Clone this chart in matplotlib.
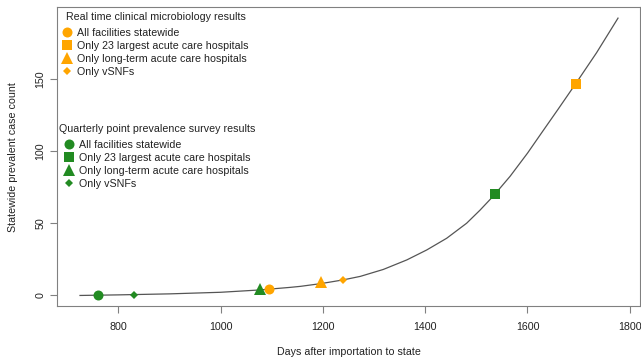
import matplotlib
matplotlib.use("Agg")
import matplotlib.pyplot as plt
from matplotlib.lines import Line2D

plt.rcParams["font.family"] = ["Liberation Sans", "DejaVu Sans"]
FS = 7.68

# model curve
curve_days = [725, 800, 900, 1000, 1076, 1136, 1156, 1196, 1240, 1273,
              1318, 1364, 1403, 1442, 1481, 1507, 1527, 1536, 1566, 1600,
              1630, 1660, 1695, 1735, 1777]
curve_cases = [0, 0.4, 1.1, 2.2, 3.8, 5.6, 6.3, 8.2, 10.8, 13.2,
               18.0, 24.6, 31.5, 39.6, 50, 59, 66.5, 70, 82.5, 98.5,
               113.8, 129, 147, 168, 192]

# detection points (day, case count)
labels = ["All facilities statewide", "Only 23 largest acute care hospitals",
          "Only long-term acute care hospitals", "Only vSNFs"]
markers = ["o", "s", "^", "D"]
msizes = [7.2, 6.8, 8.0, 4.2]

rt_days = [1095, 1695, 1196, 1240]
rt_cases = [4.3, 146.5, 9.0, 10.9]
pps_days = [760, 1536, 1076, 831]
pps_cases = [0.2, 70, 4.6, 0.5]

orange = "#FFA500"
green = "#228B22"
grey = "#808080"
ink = "#222222"

fig = plt.figure(figsize=(6.41, 3.61), dpi=100)
ax = fig.add_axes([57/641, 1 - 306/361, 583/641, 299/361])

ax.plot(curve_days, curve_cases, color="#555555", lw=0.9, zorder=2)
for i in range(4):
    ax.plot(rt_days[i], rt_cases[i], marker=markers[i], ms=msizes[i],
            color=orange, mew=0, ls="none", zorder=3)
    ax.plot(pps_days[i], pps_cases[i], marker=markers[i], ms=msizes[i],
            color=green, mew=0, ls="none", zorder=3)

ax.set_xlim(680, 1820)
ax.set_ylim(-7.3, 199.7)
ax.set_xticks([800, 1000, 1200, 1400, 1600, 1800])
ax.set_yticks([0, 50, 100, 150])
for s in ax.spines.values():
    s.set_color(grey)
    s.set_linewidth(0.8)
ax.tick_params(axis="both", colors=grey, labelcolor=ink,
               labelsize=FS, length=4.8, width=0.8)
ax.tick_params(axis="x", pad=6.5)
ax.tick_params(axis="y", pad=3.5)
for t in ax.get_yticklabels():
    t.set_rotation(90)
    t.set_va("center")

fig.text(348.5/641, 1 - 352/361, "Days after importation to state",
         ha="center", va="center", fontsize=FS, color=ink)
fig.text(13.5/641, 1 - 157/361, "Statewide prevalent case count",
         ha="center", va="center", rotation=90, fontsize=FS, color=ink)


def make_legend(color, title, cx, title_y, top):
    handles = [Line2D([], [], marker=markers[i], ms=msizes[i], color=color,
                      mew=0, ls="none") for i in range(4)]
    leg = ax.legend(handles, labels, loc="upper center",
                    bbox_to_anchor=(cx/641, 1 - top/361),
                    bbox_transform=fig.transFigure, frameon=False,
                    fontsize=FS, borderpad=0, borderaxespad=0,
                    handlelength=1.0, handletextpad=0.43, labelspacing=0.28)
    for t in leg.get_texts():
        t.set_color(ink)
    fig.text(cx/641, 1 - title_y/361, title, ha="center", va="center",
             fontsize=FS, color=ink)
    return leg


leg1 = make_legend(orange, "Real time clinical microbiology results",
                   155.5, 17, 28)
ax.add_artist(leg1)
leg2 = make_legend(green, "Quarterly point prevalence survey results",
                   157.5, 128.5, 140)

fig.savefig("out.png", dpi=100)
